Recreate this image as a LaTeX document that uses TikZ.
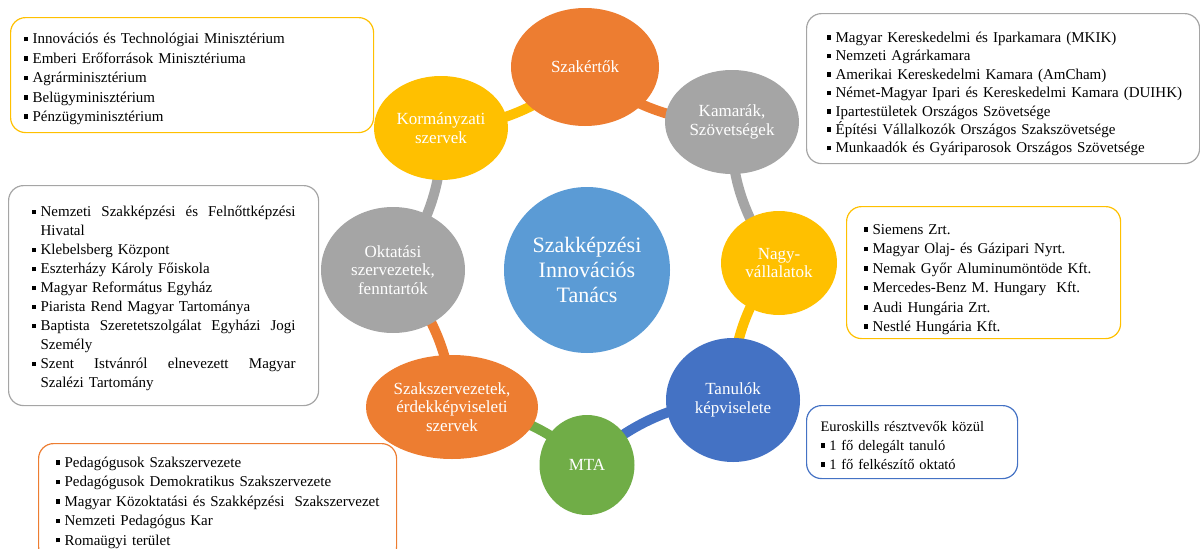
\documentclass[tikz,border=0pt]{standalone}
\usepackage{fontspec}
\setmainfont{Liberation Serif}
\usetikzlibrary{shapes.geometric,backgrounds}

\definecolor{offorange}{HTML}{ED7D31}
\definecolor{offgray}{HTML}{A5A5A5}
\definecolor{offyellow}{HTML}{FFC000}
\definecolor{offblue}{HTML}{4472C4}
\definecolor{offgreen}{HTML}{70AD47}
\definecolor{offsky}{HTML}{5B9BD5}

\newcommand{\sq}{\rule[0.17em]{0.3em}{0.3em}}
\newcommand{\lift}[1]{\rule{0pt}{#1pt}}
\newcommand{\itm}[1]{\mbox{\makebox[0.6em][l]{\sq}#1}}
\newcommand{\jitm}[1]{\makebox[264pt][s]{\makebox[0.6em][l]{\sq}#1}}

\begin{document}
\begin{tikzpicture}[x=1pt,y=-1pt,
              member/.style={ellipse,fill=#1,inner sep=0pt,text=white,align=center,
                             font=\fontsize{17}{18.4}\selectfont},
              listbox/.style={draw=#1,rounded corners=15pt,line width=1.2pt,anchor=north west,
                              align=left,inner ysep=0pt,font=\fontsize{15}{19.4}\selectfont},
              link/.style={draw=#1,line width=10pt,bend right=22.5,looseness=0.88}
            ]
              \useasboundingbox (0,0) rectangle (1200,549);

              \node[circle,fill=offsky,minimum size=166pt,inner sep=0pt,text=white,align=center,
                    font=\fontsize{22}{25}\selectfont] (tanacs) at (587,270)
                {Szakképzési\\Innovációs\\Tanács};

              \node[member=offorange,minimum width=148pt,minimum height=118pt] (szakertok) at (585,67) {Szakértők};
              \node[member=offgray,minimum width=134pt,minimum height=104pt] (kamarak) at (732,122) {Kamarák,\\Szövetségek};
              \node[member=offyellow,minimum width=116pt,minimum height=104pt] (nagyvall) at (779,263) {Nagy-\\vállalatok};
              \node[member=offblue,minimum width=134pt,minimum height=124pt] (tanulok) at (733,400) {Tanulók\\képviselete};
              \node[member=offgreen,minimum width=95pt,minimum height=100pt] (mta) at (587,465) {MTA};
              \node[member=offorange,minimum width=172pt,minimum height=104pt] (szakszerv) at (452,407) {Szakszervezetek,\\érdekképviseleti\\szervek};
              \node[member=offgray,minimum width=144pt,minimum height=126pt] (oktatasi) at (393,270) {Oktatási\\szervezetek,\\fenntartók};
              \node[member=offyellow,minimum width=134pt,minimum height=104pt] (kormany) at (441,128) {Kormányzati\\szervek};

              \begin{scope}[on background layer]
                \draw[link=offorange] (szakertok.center) to (kamarak.center);
                \draw[link=offgray] (kamarak.center) to (nagyvall.center);
                \draw[link=offyellow] (nagyvall.center) to (tanulok.center);
                \draw[link=offblue] (tanulok.center) to (mta.center);
                \draw[link=offgreen] (mta.center) to (szakszerv.center);
                \draw[link=offorange] (szakszerv.center) to (oktatasi.center);
                \draw[link=offgray] (oktatasi.center) to (kormany.center);
                \draw[link=offyellow] (kormany.center) to (szakertok.center);
              \end{scope}

              \node[listbox=offyellow,minimum width=363pt,minimum height=115pt,inner xsep=13pt,text width=337pt]
                (kormanylist) at (10,17)
                {\lift{18.5}\itm{Innovációs és Technológiai Minisztérium}\\
                 \itm{Emberi Erőforrások Minisztériuma}\\
                 \itm{Agrárminisztérium}\\
                 \itm{Belügyminisztérium}\\
                 \itm{Pénzügyminisztérium}};

              \node[listbox=offgray,minimum width=393pt,minimum height=150pt,inner xsep=20pt,text width=353pt,
                    font=\fontsize{15}{18.4}\selectfont]
                (kamaraklist) at (806,13)
                {\lift{21.5}\itm{Magyar Kereskedelmi és Iparkamara (MKIK)}\\
                 \itm{Nemzeti Agrárkamara}\\
                 \itm{Amerikai Kereskedelmi Kamara (AmCham)}\\
                 \itm{Német-Magyar Ipari és Kereskedelmi Kamara (DUIHK)}\\
                 \itm{Ipartestületek Országos Szövetsége}\\
                 \itm{Építési Vállalkozók Országos Szakszövetsége}\\
                 \itm{Munkaadók és Gyáriparosok Országos Szövetsége}};

              \node[listbox=offgray,minimum width=310pt,minimum height=220pt,inner xsep=23pt,text width=264pt,
                    font=\fontsize{15}{19}\selectfont]
                (oktatasilist) at (8,185)
                {\lift{16.5}\jitm{Nemzeti\hfill Szakképzési\hfill és\hfill Felnőttképzési}\\
                 \hspace*{0.6em}Hivatal\\
                 \itm{Klebelsberg Központ}\\
                 \itm{Eszterházy Károly Főiskola}\\
                 \itm{Magyar Református Egyház}\\
                 \itm{Piarista Rend Magyar Tartománya}\\
                 \jitm{Baptista\hfill Szeretetszolgálat\hfill Egyházi\hfill Jogi}\\
                 \hspace*{0.6em}Személy\\
                 \jitm{Szent\hfill Istvánról\hfill elnevezett\hfill Magyar}\\
                 \hspace*{0.6em}Szalézi Tartomány};

              \node[listbox=offyellow,minimum width=274pt,minimum height=132pt,inner xsep=17pt,text width=240pt]
                (nagyvalllist) at (846,206)
                {\lift{24}\itm{Siemens Zrt.}\\
                 \itm{Magyar Olaj- és Gázipari Nyrt.}\\
                 \itm{Nemak Győr Aluminumöntöde Kft.}\\
                 \itm{Mercedes-Benz M. Hungary\ \ Kft.}\\
                 \itm{Audi Hungária Zrt.}\\
                 \itm{Nestlé Hungária Kft.}};

              \node[listbox=offblue,minimum width=211pt,minimum height=73pt,inner xsep=14pt,text width=183pt,
                    font=\fontsize{14.5}{19}\selectfont]
                (tanuloklist) at (806,405)
                {\lift{16}Euroskills résztvevők közül\\
                 \itm{1 fő delegált tanuló}\\
                 \itm{1 fő felkészítő oktató}};

              \node[listbox=offorange,minimum width=358pt,minimum height=118pt,inner xsep=17pt,text width=324pt]
                (szakszervlist) at (38,443)
                {\itm{Pedagógusok Szakszervezete}\\
                 \itm{Pedagógusok Demokratikus Szakszervezete}\\
                 \itm{Magyar Közoktatási és Szakképzési\ \ Szakszervezet}\\
                 \itm{Nemzeti Pedagógus Kar}\\
                 \itm{Romaügyi terület}};
            \end{tikzpicture}
\end{document}
